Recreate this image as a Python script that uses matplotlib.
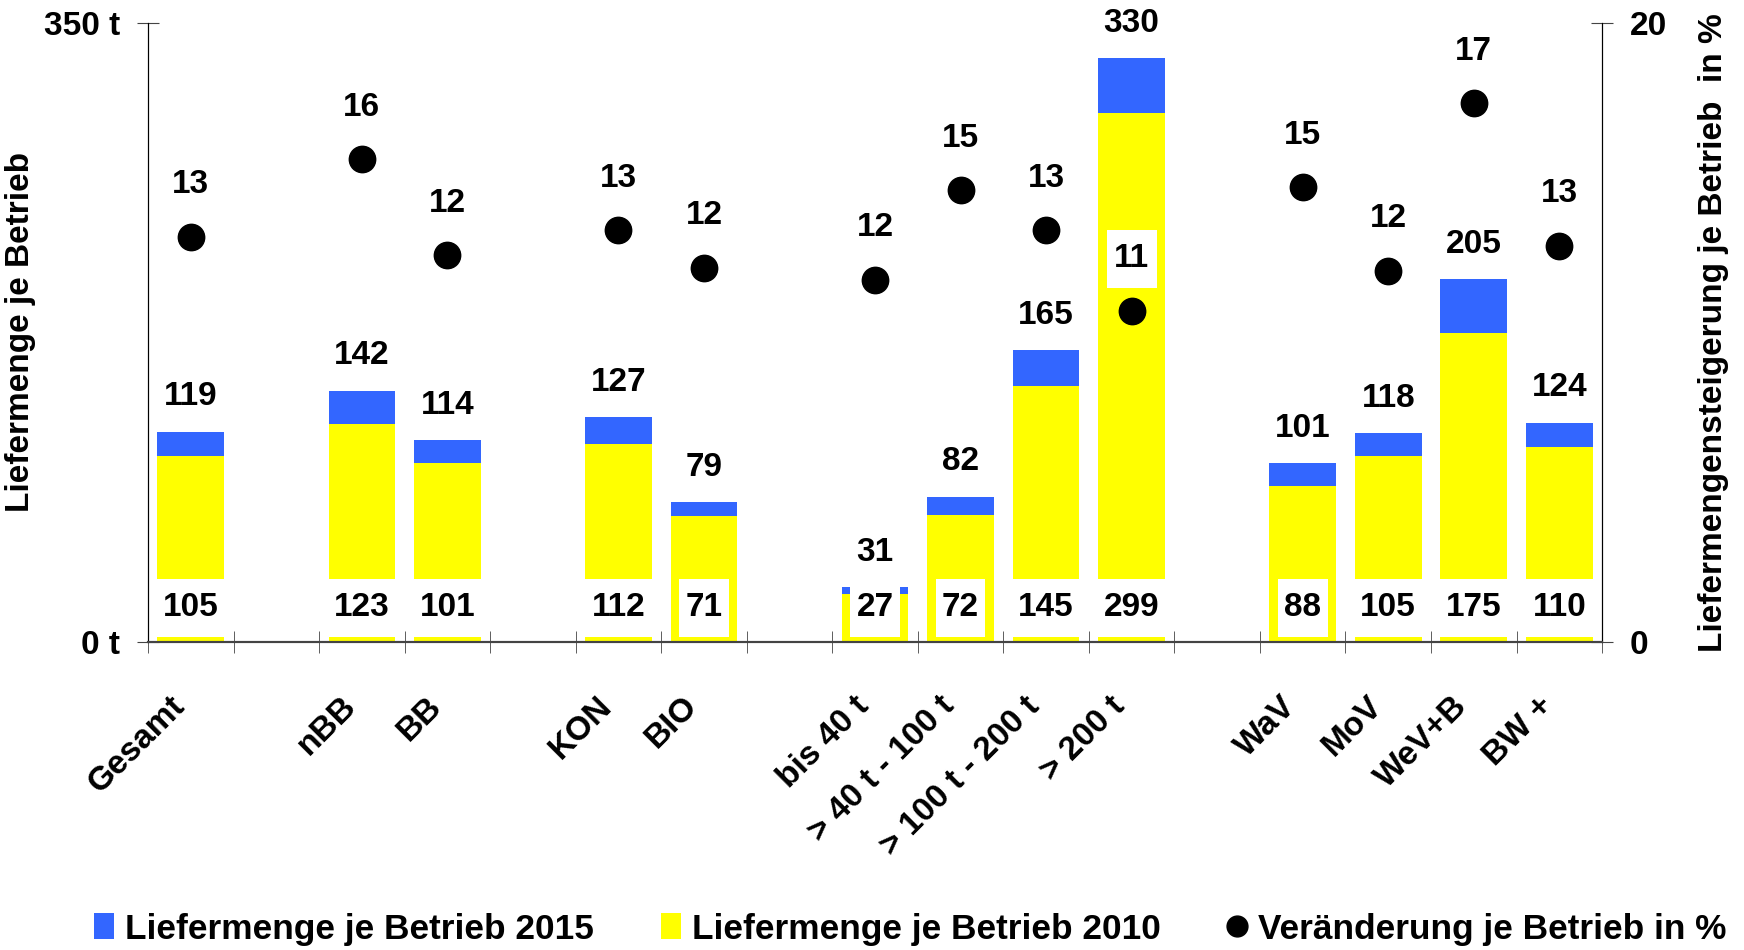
import matplotlib
matplotlib.use("Agg")
import matplotlib.pyplot as plt
import numpy as np
from matplotlib.path import Path
from matplotlib.patches import Patch
from matplotlib.lines import Line2D

plt.rcParams['font.family'] = ['Liberation Sans', 'DejaVu Sans']
plt.rcParams['font.weight'] = 'bold'
plt.rcParams['axes.labelweight'] = 'bold'
plt.rcParams['font.size'] = 24

# Kategorien in Gruppen (zwischen den Gruppen bleibt ein Platz frei)
groups = [
    ["Gesamt"],
    ["nBB", "BB"],
    ["KON", "BIO"],
    ["bis 40 t", "> 40 t - 100 t", "> 100 t - 200 t", "> 200 t"],
    ["WaV", "MoV", "WeV+B", "BW +"],
]
menge_2015 = [119, 142, 114, 127, 79, 31, 82, 165, 330, 101, 118, 205, 124]
menge_2010 = [105, 123, 101, 112, 71, 27, 72, 145, 299, 88, 105, 175, 110]
veraenderung = [13.1, 15.6, 12.5, 13.3, 12.1, 11.7, 14.6, 13.3, 10.7, 14.7, 12.0, 17.4, 12.8]

blau = '#3366FF'
gelb = '#FFFF00'

labels, pos = [], []
slot = 0
for g in groups:
    for name in g:
        labels.append(name)
        pos.append(slot)
        slot += 1
    slot += 1
n_slots = slot - 1
pos = np.array(pos)


def make_box(nchar):
    # white label box sized like Excel: digit advance widths plus padding
    def label_box(x0, y0, width, height, mutation_size):
        w = nchar * 0.556 * mutation_size + 0.38 * mutation_size
        cx = x0 + width / 2
        py = 0.40 * mutation_size
        xa, xb = cx - w / 2, cx + w / 2
        ya, yb = y0 - py, y0 + height + py
        return Path([(xa, ya), (xb, ya), (xb, yb), (xa, yb), (xa, ya)], closed=True)
    return label_box


def label(a, text, xy, dy):
    a.annotate(text, xy, xytext=(0, dy), textcoords='offset points',
               ha='center', va='center', zorder=4,
               bbox=dict(boxstyle=make_box(len(text)), facecolor='white', edgecolor='none'))


fig = plt.figure(figsize=(17.44, 9.5), dpi=100)
ax = fig.add_axes([0.0849, 0.3242, 0.8337, 0.6516])
ax2 = ax.twinx()

ax.bar(pos, menge_2015, width=0.78, color=blau, zorder=1)
ax.bar(pos, menge_2010, width=0.78, color=gelb, zorder=2)

for x, v15, v10 in zip(pos, menge_2015, menge_2010):
    label(ax, str(v15), (x, v15), 25.2)
    label(ax, str(v10), (x, 0), 24.5)

ax2.plot(pos, veraenderung, 'o', color='black', markersize=19, ls='none')
for x, p in zip(pos, veraenderung):
    label(ax2, f"{p:.0f}", (x, p), 37.4)

ax.set_xlim(-0.5, n_slots - 0.5)
ax.set_ylim(0, 350)
ax2.set_ylim(0, 20)

ax.set_xticks(pos)
ax.set_xticklabels(labels, rotation=45, ha='right', va='top')
ax.set_xticks(np.arange(-0.5, n_slots, 1), minor=True)
ax.tick_params(axis='x', which='major', length=0, pad=35)
ax.tick_params(axis='x', which='minor', direction='inout', length=16, color='#444444')

ax.set_yticks([0, 350])
ax.set_yticklabels(['0 t', '350 t'])
ax.tick_params(axis='y', direction='inout', length=16, pad=12, color='#444444')
ax2.set_yticks([0, 20])
ax2.set_yticklabels(['0', '20'])
ax2.tick_params(axis='y', direction='inout', length=16, pad=12, color='#444444')

for a in (ax, ax2):
    a.spines['top'].set_visible(False)
    a.spines['bottom'].set_color('#444444')
    a.spines['bottom'].set_linewidth(1.5)

ax.set_ylabel('Liefermenge je Betrieb', labelpad=6)
ax2.set_ylabel('Liefermengensteigerung je Betrieb  in %', labelpad=22)

handles = [
    Patch(facecolor=blau, edgecolor='none'),
    Patch(facecolor=gelb, edgecolor='none'),
    Line2D([], [], marker='o', color='black', ls='none', markersize=15),
]
fig.legend(handles, ['Liefermenge je Betrieb 2015', 'Liefermenge je Betrieb 2010',
                     'Veränderung je Betrieb in %'],
           loc='center', bbox_to_anchor=(0.522, 0.022), ncol=3, frameon=False,
           fontsize=25.4, handlelength=0.57, handleheight=0.75, handletextpad=0.3,
           columnspacing=1.9)

fig.savefig('out.png', dpi=100)
